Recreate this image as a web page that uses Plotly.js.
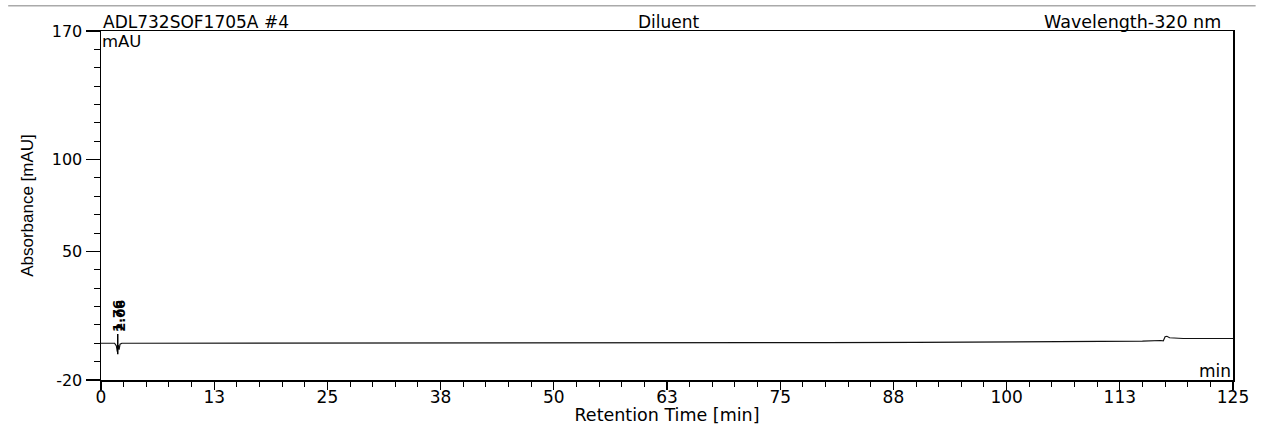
<!DOCTYPE html>
<html>
<head>
<meta charset="utf-8">
<script src="https://cdn.plot.ly/plotly-3.0.1.min.js"></script>
<style>
html,body{margin:0;padding:0;background:#fff;}
#chart{width:1261px;height:425px;}
</style>
</head>
<body>
<div id="chart"></div>
<script>
// Retention time (min) and absorbance (mAU)
const retentionTime = [0, 1.0, 1.5, 1.7, 1.8, 1.9, 2.0, 2.1, 2.3, 3, 6, 10, 15.5, 16.0, 16.5, 20, 30, 40, 50, 60, 70, 80, 90, 100, 105, 110, 113, 115, 117.0, 117.3, 117.5, 117.7, 118.0, 118.6, 119.5, 121, 125];
const absorbance    = [0, 0, 0, -1.5, -4.5, -1.0, -3.5, -0.5, 0, 0, 0, 0, 0, 0.4, 0, 0, 0.05, 0.1, 0.15, 0.2, 0.3, 0.35, 0.45, 0.6, 0.7, 0.8, 1.0, 1.2, 1.5, 1.3, 3.6, 3.8, 3.0, 2.8, 2.6, 2.6, 2.6];

const xTickVals = [0, 12.5, 25, 37.5, 50, 62.5, 75, 87.5, 100, 112.5, 125];
const xTickText = ["0", "13", "25", "38", "50", "63", "75", "88", "100", "113", "125"];
const yTickVals = [-20, 50, 100, 170];
const yTickText = ["-20", "50", "100", "170"];

const peakTimes = [1.76, 2.06];
const peakLabels = ["1.76", "2.06"];

const font = "DejaVu Sans, Liberation Sans, sans-serif";
const fontNarrow = "Liberation Sans, Arial, sans-serif";

const trace = {
  x: retentionTime,
  y: absorbance,
  type: "scatter",
  mode: "lines",
  line: {color: "#111", width: 1.2},
  hoverinfo: "skip"
};

const annotations = [
  {text: "ADL732SOF1705A #4", xref: "paper", yref: "paper", x: 0, y: 1, xanchor: "left", yanchor: "bottom", showarrow: false, font: {family: font, size: 17, color: "#000"}, yshift: -3},
  {text: "Diluent", xref: "paper", yref: "paper", x: 0.502, y: 1, xanchor: "center", yanchor: "bottom", showarrow: false, font: {family: font, size: 17, color: "#000"}, yshift: -3},
  {text: "Wavelength-320 nm", xref: "paper", yref: "paper", x: 0.991, y: 1, xanchor: "right", yanchor: "bottom", showarrow: false, font: {family: font, size: 17.5, color: "#000"}, yshift: -3},
  {text: "mAU", xref: "paper", yref: "paper", x: 0, y: 1, xanchor: "left", yanchor: "top", showarrow: false, font: {family: font, size: 16.5, color: "#000"}, xshift: -1, yshift: 1},
  {text: "min", xref: "paper", yref: "paper", x: 1, y: 0, xanchor: "right", yanchor: "bottom", showarrow: false, font: {family: font, size: 17, color: "#000"}, yshift: -3}
];
peakTimes.forEach((t, i) => {
  annotations.push({
    text: peakLabels[i], x: t, y: 5, xref: "x", yref: "y",
    textangle: -90, xanchor: "center", yanchor: "bottom", showarrow: false,
    font: {family: font, size: 13, color: "#000", weight: "bold"}
  });
});

const shapes = [
  // peak marker line
  {type: "line", xref: "x", yref: "y", x0: 1.85, x1: 1.85, y0: -6, y1: 5, line: {color: "#000", width: 1.5}},
  // faint scan line at the top
  {type: "line", xref: "paper", yref: "paper", x0: -0.082, x1: 1.02, y0: 1.072, y1: 1.072, line: {color: "#aaa", width: 1.5}}
];

const layout = {
  width: 1261, height: 425,
  margin: {l: 101, r: 28, t: 31, b: 45, pad: 0},
  paper_bgcolor: "#fff", plot_bgcolor: "#fff",
  showlegend: false,
  font: {family: font, color: "#000"},
  xaxis: {
    range: [0, 125], showgrid: false, zeroline: false,
    showline: true, mirror: true, linecolor: "#000", linewidth: 1.5,
    tickmode: "array", tickvals: xTickVals, ticktext: xTickText,
    ticks: "outside", ticklen: 8, tickwidth: 1.2, tickcolor: "#000",
    ticklabelstandoff: -7,
    tickfont: {family: font, size: 17, color: "#000"},
    minor: {dtick: 2.5, tick0: 0, ticks: "outside", ticklen: 5, tickwidth: 1, tickcolor: "#000", showgrid: false},
    title: {text: "Retention Time [min]", font: {family: font, size: 17.5, color: "#000"}, standoff: 0}
  },
  yaxis: {
    range: [-20, 170], showgrid: false, zeroline: false,
    showline: true, mirror: true, linecolor: "#000", linewidth: 1.5,
    tickmode: "array", tickvals: yTickVals, ticktext: yTickText,
    ticks: "outside", ticklen: 14, tickwidth: 1.2, tickcolor: "#000",
    tickfont: {family: font, size: 16, color: "#000"},
    minor: {dtick: 10, tick0: -20, ticks: "outside", ticklen: 6, tickwidth: 1, tickcolor: "#000", showgrid: false},
    title: {text: "Absorbance [mAU]", font: {family: fontNarrow, size: 17, color: "#000"}, standoff: 14}
  },
  annotations: annotations,
  shapes: shapes
};

Plotly.newPlot("chart", [trace], layout, {displayModeBar: false, staticPlot: true});
</script>
</body>
</html>
